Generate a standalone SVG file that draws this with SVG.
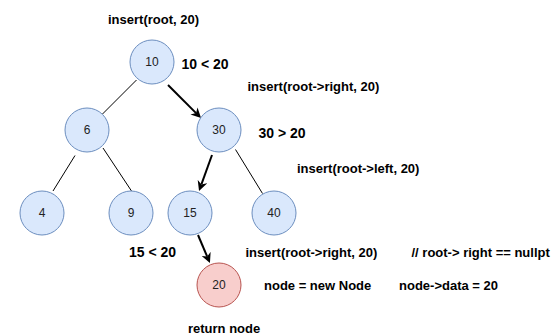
<svg xmlns="http://www.w3.org/2000/svg" width="554" height="335" viewBox="0 0 554 335">
  <style>
    .node circle { fill: #dae8fc; stroke: #6c8ebf; stroke-width: 1; }
    .node.new circle { fill: #f8cecc; stroke: #b85450; }
    .node text { font-family: "Liberation Sans", Arial, sans-serif; font-size: 12px; fill: #222; text-anchor: middle; }
    .edge { stroke: #000; stroke-width: 1; fill: none; }
    .step { stroke: #000; stroke-width: 2; fill: none; marker-end: url(#arrow); }
    .lbl { font-family: "Liberation Sans", Arial, sans-serif; font-size: 13px; font-weight: bold; fill: #000; }
    .cmp { font-family: "Liberation Sans", Arial, sans-serif; font-size: 14px; font-weight: bold; fill: #000; }
  </style>
  <defs>
    <marker id="arrow" viewBox="0 0 10 10" refX="3" refY="5" markerWidth="5" markerHeight="5" orient="auto" markerUnits="strokeWidth">
      <path d="M0,0 L10,5 L0,10 L3,5 Z" fill="#000"/>
    </marker>
  </defs>

  <!-- tree edges and insertion path -->
  <g id="connectors">
    <line class="edge" x1="136.5" y1="80" x2="102.5" y2="114"/>
    <line class="edge" x1="75" y1="155.5" x2="53" y2="191"/>
    <line class="edge" x1="103" y1="148" x2="131.5" y2="191"/>
    <line class="edge" x1="235.5" y1="149.5" x2="262.5" y2="193.5"/>
    <line class="step" x1="168" y1="85" x2="196.1" y2="113.1"/>
    <line class="step" x1="212" y1="155" x2="201.4" y2="184.4"/>
    <line class="step" x1="198" y1="235" x2="207.2" y2="256.6"/>
  </g>

  <!-- nodes -->
  <g id="n10" class="node"><circle cx="152" cy="62" r="22"/><text x="152" y="66">10</text></g>
  <g id="n6" class="node"><circle cx="87" cy="130" r="22"/><text x="87" y="134">6</text></g>
  <g id="n30" class="node"><circle cx="219" cy="130" r="22"/><text x="219" y="134">30</text></g>
  <g id="n4" class="node"><circle cx="42" cy="213" r="22"/><text x="42" y="217">4</text></g>
  <g id="n9" class="node"><circle cx="131" cy="213" r="22"/><text x="131" y="217">9</text></g>
  <g id="n15" class="node"><circle cx="190" cy="213" r="22"/><text x="190" y="217">15</text></g>
  <g id="n40" class="node"><circle cx="274" cy="213" r="22"/><text x="274" y="217">40</text></g>
  <g id="n20" class="node new"><circle cx="219" cy="285" r="22"/><text x="219" y="289">20</text></g>

  <!-- call trace annotations -->
  <g id="labels">
    <text class="lbl" x="108" y="24">insert(root, 20)</text>
    <text class="cmp" x="181.5" y="68.5">10 &lt; 20</text>
    <text class="lbl" x="247.5" y="91">insert(root-&gt;right, 20)</text>
    <text class="cmp" x="258.5" y="138">30 &gt; 20</text>
    <text class="lbl" x="297" y="173">insert(root-&gt;left, 20)</text>
    <text class="cmp" x="129" y="257">15 &lt; 20</text>
    <text class="lbl" x="245.5" y="257">insert(root-&gt;right, 20)</text>
    <text class="lbl" x="411.5" y="257">// root-&gt; right == nullpt</text>
    <text class="lbl" x="264" y="290">node = new Node</text>
    <text class="lbl" x="399" y="290">node-&gt;data = 20</text>
    <text class="lbl" x="188" y="333">return node</text>
  </g>
</svg>
